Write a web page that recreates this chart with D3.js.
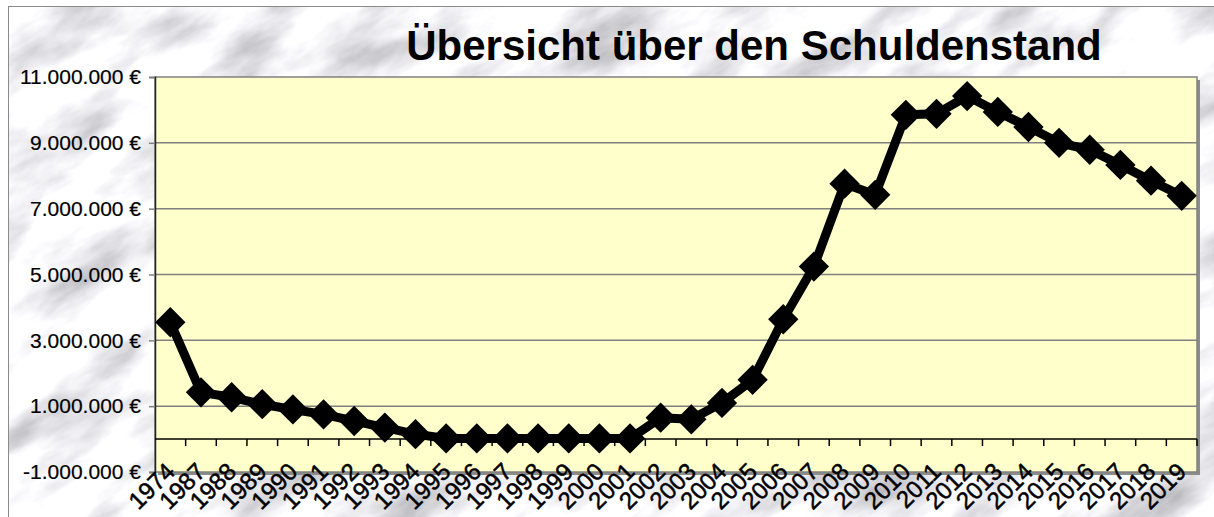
<!DOCTYPE html>
<html>
<head>
<meta charset="utf-8">
<style>
  body { margin: 0; background: #fff; }
  svg { display: block; font-family: "Liberation Sans", Arial, sans-serif; }
</style>
</head>
<body>
<div id="chart-area"></div>
<script src="https://cdn.jsdelivr.net/npm/d3@7/dist/d3.min.js"></script>
<script>
// data
var years = ['1974', '1987', '1988', '1989', '1990', '1991', '1992', '1993', '1994',
  '1995', '1996', '1997', '1998', '1999', '2000', '2001', '2002', '2003', '2004',
  '2005', '2006', '2007', '2008', '2009', '2010', '2011', '2012', '2013', '2014',
  '2015', '2016', '2017', '2018', '2019'];

var debt = [3550000, 1420000, 1270000, 1060000, 900000, 750000, 550000, 350000, 150000,
  20000, 20000, 20000, 20000, 20000, 20000, 20000, 650000, 600000, 1100000,
  1800000, 3640000, 5240000, 7760000, 7420000, 9850000, 9880000, 10420000, 9940000, 9480000,
  9000000, 8790000, 8330000, 7850000, 7390000];

var yTicks = [-1000000, 1000000, 3000000, 5000000, 7000000, 9000000, 11000000];

var title = 'Übersicht über den Schuldenstand';

var W = 1214, H = 517;
var plot = { left: 155, top: 77, right: 1197, bottom: 472 };

var svg = d3.select('#chart-area')
  .append('svg')
  .attr('width', W)
  .attr('height', H);

var defs = svg.append('defs');

// marble background
var filter = defs.append('filter')
  .attr('id', 'marble')
  .attr('x', 0).attr('y', 0).attr('width', '100%').attr('height', '100%');
filter.append('feTurbulence')
  .attr('type', 'fractalNoise')
  .attr('baseFrequency', '0.009 0.022')
  .attr('numOctaves', 5)
  .attr('seed', 11);
filter.append('feColorMatrix')
  .attr('type', 'matrix')
  .attr('values', '1.2 0 0 0 0.34  1.2 0 0 0 0.34  1.2 0 0 0 0.37  0 0 0 0 1');

defs.append('clipPath')
  .attr('id', 'frame')
  .append('rect')
    .attr('x', 8).attr('y', 6)
    .attr('width', W - 8).attr('height', H);

svg.append('g')
  .attr('clip-path', 'url(#frame)')
  .append('g')
    .attr('transform', 'rotate(-30, 600, 260)')
    .append('rect')
      .attr('x', -400).attr('y', -500)
      .attr('width', 2000).attr('height', 1500)
      .attr('filter', 'url(#marble)');

svg.append('rect')
  .attr('x', 8.5).attr('y', 6.5)
  .attr('width', W).attr('height', H)
  .attr('fill', 'none')
  .attr('stroke', '#8a8a8a');

// scales
var x = d3.scaleBand()
  .domain(years)
  .range([plot.left, plot.right]);

var y = d3.scaleLinear()
  .domain([-1000000, 11000000])
  .range([plot.bottom, plot.top]);

var locale = d3.formatLocale({
  decimal: ',', thousands: '.', grouping: [3], currency: ['', ' €'], minus: '-'
});
var fmt = locale.format('$,');

// plot area with shadow
svg.append('rect')
  .attr('x', plot.left + 3).attr('y', plot.top + 3)
  .attr('width', plot.right - plot.left).attr('height', plot.bottom - plot.top)
  .attr('fill', '#8c8c8c');

svg.append('rect')
  .attr('x', plot.left).attr('y', plot.top)
  .attr('width', plot.right - plot.left).attr('height', plot.bottom - plot.top)
  .attr('fill', '#ffffcc')
  .attr('stroke', '#808080')
  .attr('stroke-width', 1.5);

// gridlines
svg.append('g')
  .selectAll('line')
  .data(yTicks.filter(function(d) { return d > -1000000 && d < 11000000; }))
  .enter()
  .append('line')
    .attr('x1', plot.left).attr('x2', plot.right)
    .attr('y1', function(d) { return y(d); })
    .attr('y2', function(d) { return y(d); })
    .attr('stroke', '#808080')
    .attr('stroke-width', 1.5);

// Y Axis
var yAxis = svg.append('g')
  .attr('transform', 'translate(' + plot.left + ', 0)')
  .call(d3.axisLeft(y).tickValues(yTicks).tickFormat(fmt).tickSize(6).tickPadding(8));
yAxis.select('.domain').attr('stroke', '#222').attr('stroke-width', 1.5);
yAxis.selectAll('.tick line').attr('stroke', '#808080').attr('stroke-width', 1.5);
yAxis.selectAll('text')
  .attr('font-size', '21px')
  .attr('fill', '#000')
  .attr('stroke', '#000')
  .attr('stroke-width', 0.2);

// X Axis at zero
svg.append('line')
  .attr('x1', plot.left).attr('x2', plot.right)
  .attr('y1', y(0)).attr('y2', y(0))
  .attr('stroke', '#000')
  .attr('stroke-width', 1.5);

svg.append('g')
  .selectAll('line')
  .data(years)
  .enter()
  .append('line')
    .attr('x1', function(d) { return x(d) + x.bandwidth(); })
    .attr('x2', function(d) { return x(d) + x.bandwidth(); })
    .attr('y1', y(0))
    .attr('y2', y(0) + 7)
    .attr('stroke', '#000')
    .attr('stroke-width', 1.5);

// X Labels
svg.append('g')
  .selectAll('text')
  .data(years)
  .enter()
  .append('text')
    .attr('transform', function(d) {
      return 'translate(' + (x(d) + x.bandwidth() / 2 + 6) + ', 473) rotate(-45)';
    })
    .attr('text-anchor', 'end')
    .attr('font-size', '24px')
    .attr('fill', '#000')
    .attr('stroke', '#000')
    .attr('stroke-width', 0.5)
    .text(function(d) { return d; });

// line
var cx = function(d, i) { return x(years[i]) + x.bandwidth() / 2; };

svg.append('path')
  .datum(debt)
  .attr('fill', 'none')
  .attr('stroke', '#000')
  .attr('stroke-width', 9)
  .attr('stroke-linejoin', 'round')
  .attr('d', d3.line()
    .x(cx)
    .y(function(d) { return y(d); }));

// markers
svg.append('g')
  .selectAll('path')
  .data(debt)
  .enter()
  .append('path')
    .attr('d', d3.symbol().type(d3.symbolSquare).size(460))
    .attr('transform', function(d, i) {
      return 'translate(' + cx(d, i) + ', ' + y(d) + ') rotate(45)';
    })
    .attr('fill', '#000');

// Title
svg.append('text')
  .attr('x', 754)
  .attr('y', 60)
  .attr('text-anchor', 'middle')
  .attr('font-size', '42px')
  .attr('font-weight', 'bold')
  .attr('fill', '#000')
  .text(title);
</script>
</body>
</html>
